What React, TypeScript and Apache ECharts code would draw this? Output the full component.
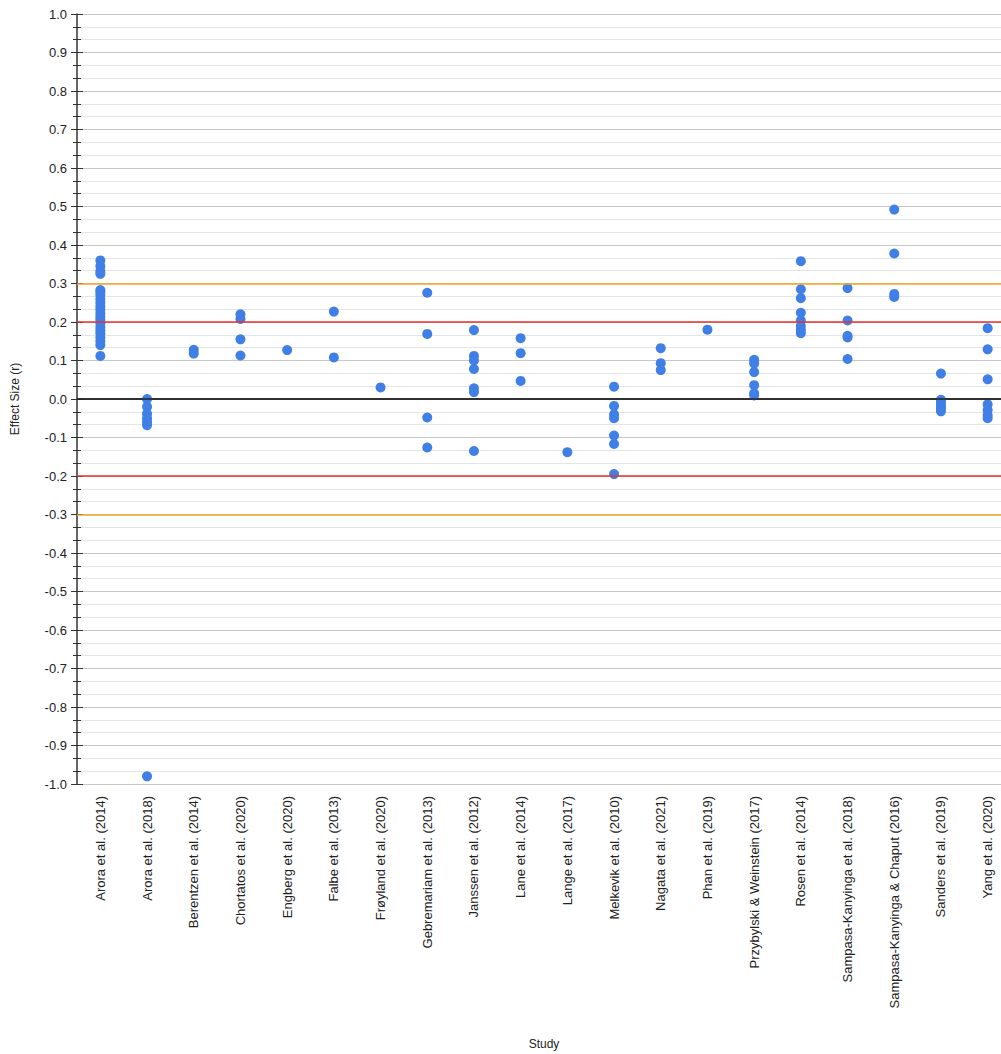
import React, { useEffect, useRef } from "react";
import * as echarts from "echarts";

const studies = [
  "Arora et al. (2014)",
  "Arora et al. (2018)",
  "Berentzen et al. (2014)",
  "Chortatos et al. (2020)",
  "Engberg et al. (2020)",
  "Falbe et al. (2013)",
  "Frøyland et al. (2020)",
  "Gebremariam et al. (2013)",
  "Janssen et al. (2012)",
  "Lane et al. (2014)",
  "Lange et al. (2017)",
  "Melkevik et al. (2010)",
  "Nagata et al. (2021)",
  "Phan et al. (2019)",
  "Przybylski & Weinstein (2017)",
  "Rosen et al. (2014)",
  "Sampasa-Kanyinga et al. (2018)",
  "Sampasa-Kanyinga & Chaput (2016)",
  "Sanders et al. (2019)",
  "Yang et al. (2020)",
];

const effectSizes: number[][] = [
  [0.36, 0.345, 0.332, 0.325, 0.283, 0.278, 0.27, 0.26, 0.25, 0.24, 0.232, 0.222, 0.213, 0.205, 0.196, 0.186, 0.178, 0.17, 0.16, 0.15, 0.14, 0.112],
  [0.0, -0.02, -0.038, -0.05, -0.06, -0.068, -0.98],
  [0.128, 0.118],
  [0.22, 0.208, 0.155, 0.113],
  [0.127],
  [0.227, 0.108],
  [0.03],
  [0.276, 0.169, -0.048, -0.126],
  [0.179, 0.112, 0.1, 0.078, 0.028, 0.018, -0.135],
  [0.158, 0.119, 0.047],
  [-0.138],
  [0.032, -0.018, -0.04, -0.05, -0.095, -0.117, -0.195],
  [0.132, 0.093, 0.075],
  [0.18],
  [0.102, 0.092, 0.07, 0.036, 0.015, 0.009],
  [0.358, 0.285, 0.262, 0.224, 0.204, 0.19, 0.18, 0.171],
  [0.288, 0.204, 0.164, 0.16, 0.104],
  [0.492, 0.378, 0.273, 0.265],
  [0.066, -0.002, -0.01, -0.018, -0.025, -0.032],
  [0.184, 0.129, 0.051, -0.014, -0.029, -0.042, -0.05],
];

const referenceLines = [
  { value: 0.3, color: "#f5a623" },
  { value: 0.2, color: "#e8322e" },
  { value: 0, color: "#222222" },
  { value: -0.2, color: "#e8322e" },
  { value: -0.3, color: "#f5a623" },
];

const FONT = "Liberation Sans, Arial, sans-serif";

export default function App() {
  const ref = useRef<HTMLDivElement>(null);
  useEffect(() => {
    document.body.style.margin = "0";
    const chart = echarts.init(ref.current!, undefined, { renderer: "svg" });
    const points: [string, number][] = [];
    studies.forEach((s, i) => effectSizes[i].forEach((v) => points.push([s, v])));

    const yCommon = {
      type: "value" as const,
      min: -1,
      max: 1,
      interval: 0.1,
    };

    chart.setOption({
      animation: false,
      textStyle: { fontFamily: FONT },
      grid: {
        left: 77,
        top: 14,
        width: 934,
        height: 770,
        containLabel: false,
        outerBoundsMode: "none",
      },
      xAxis: [
        {
          type: "category",
          data: studies,
          name: "Study",
          nameLocation: "middle",
          nameGap: 254,
          nameTextStyle: { fontSize: 12, color: "#222", fontFamily: FONT },
          axisLine: { lineStyle: { color: "#333", width: 1.5 } },
          axisTick: { alignWithLabel: true, length: 7, lineStyle: { color: "#333" } },
          axisLabel: { rotate: 90, fontSize: 13, color: "#222", margin: 12, fontFamily: FONT, interval: 0 },
          splitLine: { show: false },
        },
        {
          type: "category",
          data: studies,
          position: "bottom",
          axisLine: { show: false },
          axisTick: { inside: true, alignWithLabel: true, length: 5, lineStyle: { color: "#333" } },
          axisLabel: { show: false },
          splitLine: { show: false },
        },
      ],
      yAxis: [
        {
          ...yCommon,
          name: "Effect Size (r)",
          nameLocation: "middle",
          nameGap: 56,
          nameRotate: 90,
          nameTextStyle: { fontSize: 12, color: "#222", fontFamily: FONT },
          axisLine: { show: true, lineStyle: { color: "#333", width: 1.5 } },
          axisTick: { show: true, length: 6, lineStyle: { color: "#333" } },
          minorTick: { show: true, splitNumber: 3, length: 4, lineStyle: { color: "#333" } },
          axisLabel: {
            fontSize: 13,
            color: "#222",
            margin: 10,
            fontFamily: FONT,
            formatter: (v: number) => v.toFixed(1),
          },
          splitLine: { show: true, lineStyle: { color: "#c8c8c8", width: 1 } },
          minorSplitLine: { show: true, lineStyle: { color: "#e4e4e4", width: 1 } },
        },
        {
          ...yCommon,
          position: "left",
          axisLine: { show: false },
          axisTick: { show: true, inside: true, length: 6, lineStyle: { color: "#333" } },
          minorTick: { show: true, splitNumber: 3, length: 4, lineStyle: { color: "#333" } },
          axisLabel: { show: false },
          splitLine: { show: false },
        },
      ],
      series: [
        {
          type: "scatter",
          data: points,
          symbolSize: 10,
          itemStyle: { color: "#3f7fe6", opacity: 1 },
          markLine: {
            silent: true,
            symbol: "none",
            label: { show: false },
            data: referenceLines.map((r) => ({
              yAxis: r.value,
              lineStyle: { color: r.color, width: 1.5, type: "solid" },
            })),
          },
          z: 3,
        },
      ],
    });
    return () => chart.dispose();
  }, []);
  return <div ref={ref} style={{ width: 1001, height: 1054 }} />;
}
